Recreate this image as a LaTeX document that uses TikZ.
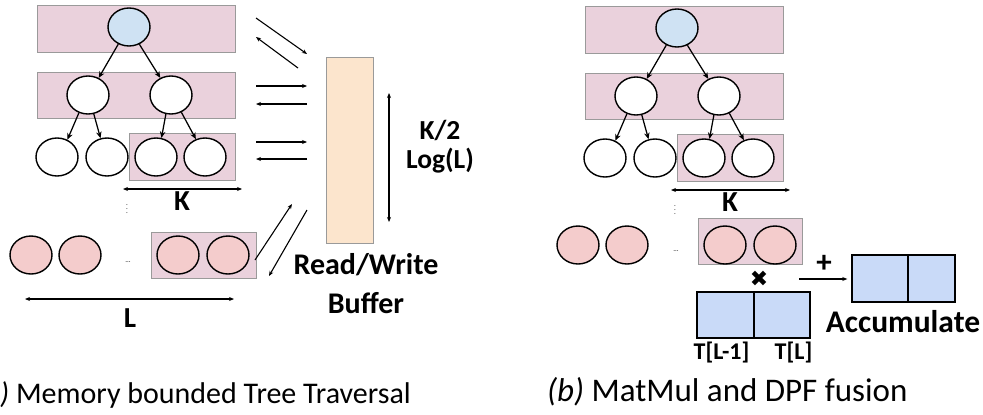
\documentclass[tikz,border=0pt]{standalone}
\usepackage{fontspec}
\setmainfont{Carlito}
\newfontfamily\symfont{DejaVu Sans}
\usetikzlibrary{arrows.meta,shapes.geometric}

\definecolor{bandpink}{HTML}{EAD1DC}
\definecolor{bandedge}{HTML}{9A9A9A}
\definecolor{rootblue}{HTML}{CFE2F3}
\definecolor{leafpink}{HTML}{F4CCCC}
\definecolor{bufpeach}{HTML}{FCE5CD}
\definecolor{cellblue}{HTML}{C9DAF8}

\tikzset{
  band/.style={draw=bandedge, fill=bandpink, line width=0.8pt},
  tnode/.style={ellipse, draw, fill=white, line width=1.4pt, inner sep=0pt,
                minimum width=42pt, minimum height=38pt},
  rootnode/.style={tnode, fill=rootblue},
  leafnode/.style={tnode, fill=leafpink},
  treeedge/.style={-{Stealth[length=6.5pt,width=5.5pt]}, line width=1.25pt},
  io/.style={-{Stealth[length=5pt,width=4pt]}, line width=1.1pt},
  span/.style={{Stealth[length=5pt,width=4pt]}-{Stealth[length=5pt,width=4pt]}, line width=1.1pt},
  lbl/.style={font=\bfseries\fontsize{29}{39}\selectfont, align=center, inner sep=0pt},
  small/.style={font=\bfseries\fontsize{24}{28}\selectfont, inner sep=0pt},
  caption/.style={inner sep=0pt},
  dots/.style={font=\fontsize{7}{8}\selectfont, inner sep=0pt},
  cell/.style={draw, fill=cellblue, line width=1.4pt, inner sep=0pt},
  buffer/.style={draw=bandedge, fill=bufpeach, line width=0.8pt, inner sep=0pt}
}

\begin{document}
\begin{tikzpicture}[x=1pt, y=-1pt]
\useasboundingbox (0,0) rectangle (983,415);
\clip (0,0) rectangle (983,415);

% ---- the tree, once in each panel ----
\foreach \p/\dx/\dy in {a/0/0, b/548/1} {
  \begin{scope}[shift={(\dx,\dy)}]
    \draw[band] (37,5) rectangle (235,52);
    \draw[band] (37,72) rectangle (235,118);
    \draw[band] (129,133) rectangle (235,180);
    \node[rootnode] (\p root) at (129,27) {};
    \node[tnode] (\p l2a) at (88,95) {};
    \node[tnode] (\p l2b) at (171,95) {};
    \node[tnode] (\p l3a) at (57,157) {};
    \node[tnode] (\p l3b) at (107,157) {};
    \node[tnode] (\p l3c) at (156,157) {};
    \node[tnode] (\p l3d) at (205,157) {};
    \draw[treeedge] (\p root.238) -- (\p l2a.58);
    \draw[treeedge] (\p root.301) -- (\p l2b.122);
    \draw[treeedge] (\p l2a.243) -- (\p l3a.59);
    \draw[treeedge] (\p l2a.287) -- (\p l3b.109);
    \draw[treeedge] (\p l2b.255) -- (\p l3c.74);
    \draw[treeedge] (\p l2b.301) -- (\p l3d.117);
    % width of the selected leaves
    \coordinate (\p kl) at (123,189);
    \coordinate (\p kr) at (242,189);
    \draw[span] (\p kl) -- (\p kr);
    \node[lbl] (\p k) at (182,201) {K};
    \node[dots] (\p vd) at (127,206) {\vdots};
  \end{scope}
}

% ---- panel (a): last level and the buffer ----
\node[leafnode] (aq1) at (31,255) {};
\node[leafnode] (aq2) at (80,255) {};
\node[dots] (ahd) at (128,262) {…};
\draw[band] (151,232) rectangle (256,278);
\node[leafnode] (aq3) at (178,255) {};
\node[leafnode] (aq4) at (228,255) {};
\coordinate (ll) at (25,299);
\coordinate (lr) at (234,299);
\draw[span] (ll) -- (lr);
\node[lbl] (lname) at (130,318) {L};

\node[buffer, minimum width=47pt, minimum height=186pt] (buf) at (349.5,150) {};
\coordinate (ht) at (389,93);
\coordinate (hb) at (389,222);
\draw[span] (ht) -- (hb);
\node[lbl, font=\bfseries\fontsize{27.5}{29}\selectfont] (cost) at (440,147) {K/2\\Log(L)};
\node[lbl, font=\bfseries\fontsize{30}{39}\selectfont] (bufname) at (366,284) {Read/Write\\Buffer};

% reads and writes between the tree levels and the buffer
\coordinate (d1s) at (256,18);  \coordinate (d1e) at (307,54);
\coordinate (d2s) at (298,68);  \coordinate (d2e) at (256,37);
\coordinate (h1s) at (256,86);  \coordinate (h1e) at (307,86);
\coordinate (h2s) at (307,104); \coordinate (h2e) at (256,104);
\coordinate (h3s) at (256,142); \coordinate (h3e) at (307,142);
\coordinate (h4s) at (307,159); \coordinate (h4e) at (256,159);
\coordinate (b1s) at (255,260); \coordinate (b1e) at (292,204);
\coordinate (b2s) at (307,210); \coordinate (b2e) at (269,276);
\foreach \a in {d1,d2,h1,h2,h3,h4,b1,b2}
  \draw[io] (\a s) -- (\a e);

\node[caption, font=\fontsize{30}{34}\selectfont, anchor=base east] (capa) at (411,403)
  {\textit{(a)} Memory bounded Tree Traversal};

% ---- panel (b): last level fused with the matrix product ----
\node[leafnode] (bq1) at (578,245) {};
\node[leafnode] (bq2) at (627,245) {};
\node[dots] (bhd) at (676,251) {…};
\draw[band] (698,218) rectangle (802,264);
\node[leafnode] (bq3) at (725,245) {};
\node[leafnode] (bq4) at (775,245) {};

\node[font=\symfont\bfseries\fontsize{22}{24}\selectfont, inner sep=0pt] (times) at (759,279) {✖};
\node[cell, minimum width=57pt, minimum height=46pt] (tl1) at (725.5,315) {};
\node[cell, minimum width=56pt, minimum height=46pt] (tl) at (782,315) {};
\node[small] (tl1name) at (721.5,353) {T[L-1]};
\node[small] (tlname) at (793.5,353) {T[L]};

\node[cell, minimum width=56pt, minimum height=47pt] (acc1) at (880,278.5) {};
\node[cell, minimum width=47pt, minimum height=47pt] (acc2) at (931.5,278.5) {};
\coordinate (prod) at (799,279);
\draw[io] (prod) -- ([xshift=-4pt]acc1.west |- prod);
\node[lbl, font=\bfseries\fontsize{31}{36}\selectfont] (plus) at (824,264) {+};
\node[lbl, font=\bfseries\fontsize{31.5}{36}\selectfont] (accname) at (903,322) {Accumulate};

\node[caption, font=\fontsize{33}{38}\selectfont, anchor=base west] (capb) at (547,401)
  {\textit{(b)} MatMul and DPF fusion};
\end{tikzpicture}
\end{document}
